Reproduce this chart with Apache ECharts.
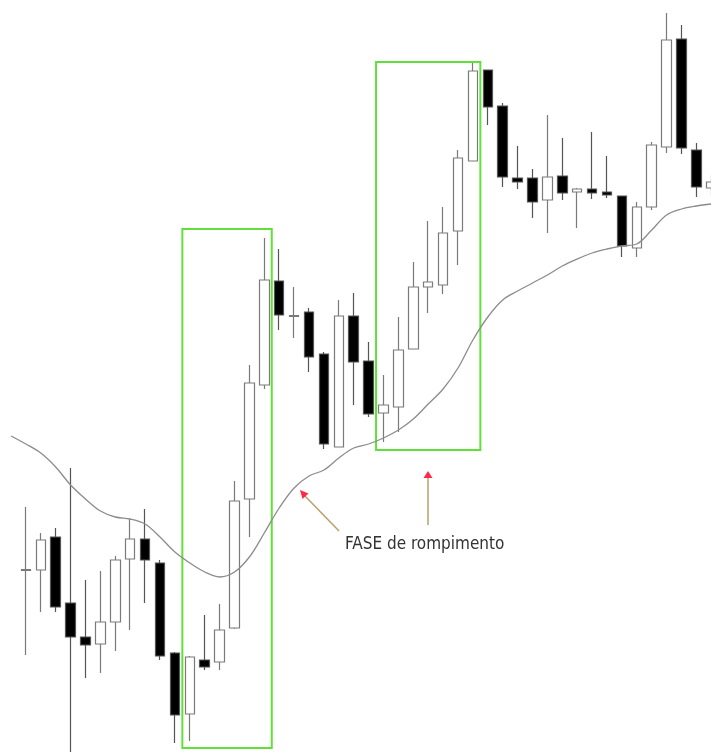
<!DOCTYPE html>
<html>
<head>
<meta charset="utf-8">
<script src="https://cdn.jsdelivr.net/npm/echarts@6/dist/echarts.min.js"></script>
<style>
html,body{margin:0;padding:0;background:#fff;overflow:hidden;width:711px;height:752px;}
#chart{width:720px;height:752px;}
</style>
</head>
<body>
<div id="chart"></div>
<script>
// Price scale (arbitrary units, higher = up)
// Candles: [open, close, low, high]; the first category is a lead-in with only the average
const categories = ['c0','c1','c2','c3','c4','c5','c6','c7','c8','c9','c10','c11','c12','c13','c14','c15','c16','c17','c18','c19','c20','c21','c22','c23','c24','c25','c26','c27','c28','c29','c30','c31','c32','c33','c34','c35','c36','c37','c38','c39','c40','c41','c42','c43','c44','c45','c46','c47'];
const candles = [
  '-',
  [181.5,182.5,97,245],
  [182,212,140,219],
  [215,145,140,224],
  [149,115,-8,284],
  [115,107,74,172],
  [108,130,79,181],
  [130,192,101,196],
  [193,213,122,233],
  [213,192,149,243],
  [189,96,92,192],
  [99,37,9,100],
  [38,95,11,96],
  [92,85,82,137],
  [90,122,82,148],
  [124,251,123,271],
  [253,369,215,387],
  [367,472,363,514],
  [471,437,422,503],
  [435.5,436.5,414,465],
  [440,395,380,444],
  [398,308,303,400],
  [305,436,305,452],
  [436,390,347,459],
  [391,338,335,410],
  [339,347,310,377],
  [345,402,320,435],
  [403,465,403,490],
  [465,470,439,531],
  [467,519,458,545],
  [521,594,487,602],
  [591,681,591,689],
  [682,645,627,682],
  [646,575,565,649],
  [574,570,563,606],
  [574,550,534,583],
  [552,575,519,637],
  [576,559,552,614],
  [560,563,524,564],
  [563,559,553,620],
  [560,557,554,596],
  [556,506,495,556],
  [504,545,495,550],
  [545,607,542,610],
  [605,712,599,739],
  [713,604,598,727],
  [602,565,555,609],
  [564,570,557,577]
];
const movingAverage = [316,308,299,285,267,253,241,235,233,228,215,200,189,180,175,180,195,219,244,264,276,282,294,304,308,314,322,333,348,363,384,412,435,452,461,469,477,486,493,499,503,506,508,522,537,543,546,548];
// Highlighted breakout zones: [first category, last category, bottom value, top value]
const zoneStart = ['c12','c25'];
const zoneEnd = ['c17','c31'];
const zoneLow = [4,302];
const zoneHigh = [523,690];
const annotationText = 'FASE de rompimento';

const zoneData = zoneStart.map((s,i)=>[categories.indexOf(s), categories.indexOf(zoneEnd[i]), zoneLow[i], zoneHigh[i]]);

const chart = echarts.init(document.getElementById('chart'), null, {renderer:'canvas'});
chart.setOption({
  animation:false,
  backgroundColor:'#ffffff',
  grid:{left:3.55, right:1.25, top:0, bottom:0},
  xAxis:{type:'category', data:categories, show:false, boundaryGap:true},
  yAxis:{type:'value', min:0, max:752, show:false, splitLine:{show:false}},
  series:[
    {
      type:'custom',
      data:zoneData,
      silent:true,
      clip:false,
      encode:{x:[0,1], y:[2,3]},
      renderItem:function(params, api){
        const bw = api.size([1,0])[0];
        const p1 = api.coord([api.value(0), api.value(3)]);
        const p2 = api.coord([api.value(1), api.value(2)]);
        return {
          type:'rect',
          shape:{x:p1[0]-bw/2, y:p1[1], width:p2[0]-p1[0]+bw, height:p2[1]-p1[1]},
          style:{fill:'none', stroke:'#62e03a', lineWidth:2}
        };
      },
      z:1
    },
    {
      type:'candlestick',
      data:candles,
      barWidth:10,
      itemStyle:{color:'#ffffff', color0:'#000000', borderColor:'#7a7a7a', borderColor0:'#555555', borderWidth:1.2},
      z:2
    },
    {
      type:'line',
      data:movingAverage,
      smooth:0.35,
      symbol:'none',
      lineStyle:{color:'#8c8c8c', width:1.3},
      z:3
    }
  ],
  graphic:[
    {type:'line', shape:{x1:339,y1:531,x2:305,y2:496}, style:{stroke:'#b8a06e', lineWidth:1.5}},
    {type:'polygon', shape:{points:[[300,490],[308.5,493.5],[302.5,499]]}, style:{fill:'#ff2a48'}},
    {type:'line', shape:{x1:428,y1:525,x2:428,y2:478}, style:{stroke:'#b8a06e', lineWidth:1.5}},
    {type:'polygon', shape:{points:[[428,471],[432.5,478],[423.5,478]]}, style:{fill:'#ff2a48'}},
    {type:'text', x:345, y:536, style:{text:annotationText, fill:'#333333', font:'300 17px "Liberation Sans Narrow", "DejaVu Sans Condensed", sans-serif'}}
  ]
});
</script>
</body>
</html>
